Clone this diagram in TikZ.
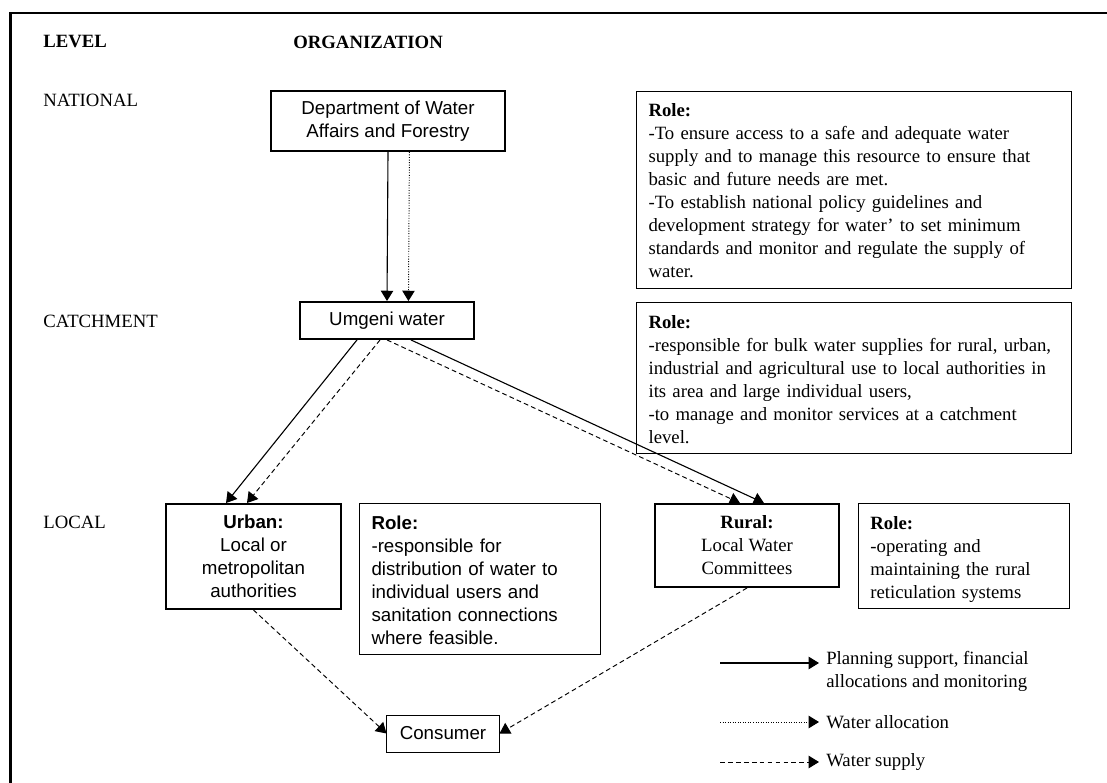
\documentclass[tikz,border=0pt]{standalone}
\usepackage{fontspec}
\setmainfont{Liberation Serif}
\setsansfont{Liberation Sans}
\usetikzlibrary{arrows.meta,positioning}

\begin{document}
\fontsize{11.8}{14.5}\selectfont
\begin{tikzpicture}[
  x=0.63pt, y=-0.63pt,
  >={Triangle[length=6.5pt,width=7.8pt]},
  org/.style={draw, line width=1.2pt, align=center, inner sep=0pt,
    font=\sffamily},
  role/.style={draw, line width=.6pt, align=left, anchor=north west,
    inner xsep=7.6pt, inner ysep=0pt, text width=#1},
  lvl/.style={anchor=west, inner sep=0pt},
  legend/.style={anchor=west, inner xsep=4.4pt, inner ysep=0pt, align=left},
  plan/.style={->, line width=.7pt},
  alloc/.style={->, line width=.6pt, densely dotted},
  supply/.style={->, line width=.6pt, dash pattern=on 3pt off 2pt}
]
\useasboundingbox (0,0) rectangle (1107,783);
\draw[line width=1.3pt] (1107,13) -- (10.5,13) -- (10.5,783);

% column heads and levels
\node[lvl, font=\bfseries] (levelhd) at (43,42) {LEVEL};
\node[lvl, font=\bfseries] (orghd) at (293,42) {ORGANIZATION};
\node[lvl] (national) at (43,100) {NATIONAL};
\node[lvl] (catchment) at (43,321) {CATCHMENT};
\node[lvl] (local) at (43,522) {LOCAL};

% organizations
\node[org, minimum width=147.4pt, minimum height=37.8pt] (dwaf) at (388,121)
  {Department of Water\\Affairs and Forestry};
\node[org, minimum width=109.6pt, minimum height=23.3pt] (umgeni) at (387,320.5)
  {Umgeni water};
\node[org, minimum width=110.3pt, minimum height=66.2pt] (urban) at (253.5,556.5)
  {\textbf{Urban:}\\Local or\\metropolitan\\authorities};
\node[org, font=\rmfamily, minimum width=115.9pt, minimum height=52.3pt] (rural) at (747,545.5)
  {\textbf{Rural:}\\Local Water\\Committees};
\node[org, line width=.6pt, minimum width=70.6pt, minimum height=23.3pt] (consumer) at (443,733.5)
  {Consumer};

% roles
\node[role=258.8pt, text height=15.9pt, text depth=108.2pt] (natrole) at (636,91)
  {\textbf{Role:}\\-To ensure access to a safe and adequate water\\supply and to manage this resource to ensure that\\basic and future needs are met.\\-To establish national policy guidelines and\\development strategy for water’ to set minimum\\standards and monitor and regulate the supply of\\water.};
\node[role=258.8pt, text height=16.4pt, text depth=78.75pt] (catrole) at (636,302)
  {\textbf{Role:}\\-responsible for bulk water supplies for rural, urban,\\industrial and agricultural use to local authorities in\\its area and large individual users,\\-to manage and monitor services at a catchment\\level.};
\node[role=136.6pt, font=\sffamily, text height=16.4pt, text depth=78.75pt,
  right=10.7pt of urban.north east, anchor=north west] (urbanrole)
  {\textbf{Role:}\\-responsible for\\distribution of water to\\individual users and\\sanitation connections\\where feasible.};
\node[role=117.7pt, text height=16.1pt, text depth=50pt,
  right=11.3pt of rural.north east, anchor=north west] (ruralrole)
  {\textbf{Role:}\\-operating and\\maintaining the rural\\reticulation systems};

% flows
\draw[plan] (dwaf.south) -- (umgeni.north);
\draw[alloc] ([xshift=13.5pt]dwaf.south) -- ([xshift=13.5pt]umgeni.north);
\draw[plan] ([xshift=-18.9pt]umgeni.south) -- ([xshift=-17.3pt]urban.north);
\draw[supply] ([xshift=-4.4pt]umgeni.south) -- ([xshift=-4.1pt]urban.north);
\draw[supply] (umgeni.south) -- ([xshift=-4.4pt]rural.north);
\draw[plan] ([xshift=15.1pt]umgeni.south) -- ([xshift=10.7pt]rural.north);
\draw[supply] (urban.south) -- (consumer.west);
\draw[supply] (rural.south) -- (consumer.east);

% legend
\coordinate (plan0) at (720,663);
\coordinate (alloc0) at (720,722);
\coordinate (supply0) at (720,762);
\node[legend] (plantxt) at (819,671) {Planning support, financial\\allocations and monitoring};
\node[legend] (alloctxt) at (819,722) {Water allocation};
\node[legend] (supplytxt) at (819,762) {Water supply};
\draw[plan] (plan0) -- (plan0 -| plantxt.west);
\draw[alloc] (alloc0) -- (alloctxt.west);
\draw[supply] (supply0) -- (supplytxt.west);

\end{tikzpicture}
\end{document}
